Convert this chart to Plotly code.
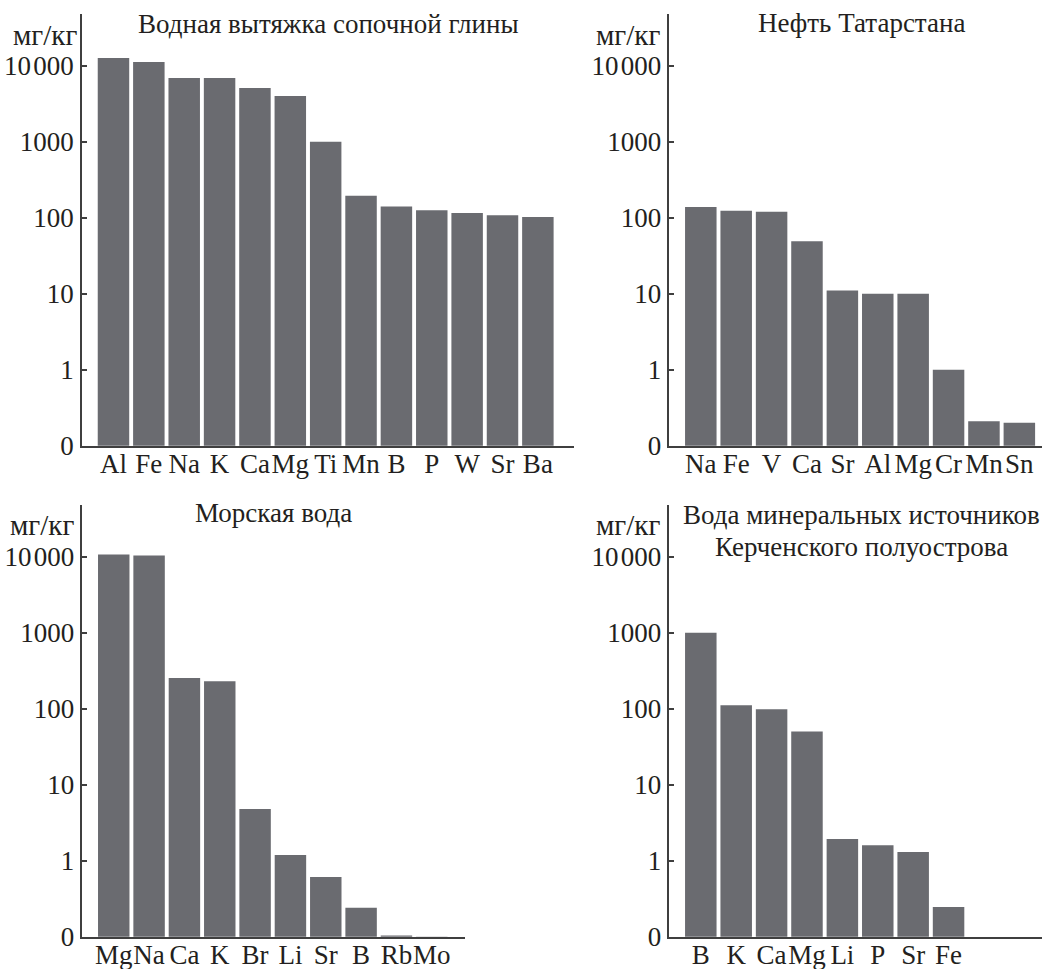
import plotly.graph_objects as go

W, H = 1042, 969

# ---- data ----
clay_elements = ["Al", "Fe", "Na", "K", "Ca", "Mg", "Ti", "Mn", "B", "P", "W", "Sr", "Ba"]
clay_values = [12600, 11200, 6900, 6900, 5100, 4000, 1000, 195, 140, 125, 115, 108, 102]

oil_elements = ["Na", "Fe", "V", "Ca", "Sr", "Al", "Mg", "Cr", "Mn", "Sn"]
oil_values = [138, 123, 120, 49, 11, 10, 10, 1.0, 0.21, 0.20]

sea_elements = ["Mg", "Na", "Ca", "K", "Br", "Li", "Sr", "B", "Rb", "Mo"]
sea_values = [10700, 10400, 253, 230, 4.8, 1.19, 0.61, 0.24, 0.104, 0.1]

spring_elements = ["B", "K", "Ca", "Mg", "Li", "P", "Sr", "Fe"]
spring_values = [1000, 111, 98, 50, 1.93, 1.6, 1.3, 0.245]

y_tickvals = [0.1, 1, 10, 100, 1000, 10000]
y_ticktext = ["0", "1", "10", "100", "1000", "10\u200a000"]

titles = ["Водная вытяжка сопочной глины", "Нефть Татарстана", "Морская вода",
          "Вода минеральных источников", "Керченского полуострова"]
unit_label = "мг/кг"

# ---- styling / layout ----
BAR = "#6a6b70"
AX = "#3f3f3f"
TXT = "#231f20"
FONT = "Liberation Serif"

panels = [
    # (elements, values, x px domain, y px domain (top,bottom), x range)
    (clay_elements, clay_values, (82, 574.3), (14, 445.7), (-0.89, 13.03)),
    (oil_elements, oil_values, (669.3, 1042), (14, 445.7), (-0.89, 9.64)),
    (sea_elements, sea_values, (82.3, 465), (505, 936.7), (-0.89, 9.94)),
    (spring_elements, spring_values, (669.3, 1042), (505, 936.7), (-0.89, 9.64)),
]

fig = go.Figure()
layout = {}
for i, (els, vals, xd, yd, xr) in enumerate(panels):
    n = i + 1
    xa = "x" if n == 1 else f"x{n}"
    ya = "y" if n == 1 else f"y{n}"
    fig.add_trace(go.Bar(
        x=list(range(len(els))), y=vals, xaxis=xa, yaxis=ya,
        marker=dict(color=BAR, line=dict(width=0)),
        showlegend=False, hoverinfo="x+y",
    ))
    xkey = "xaxis" if n == 1 else f"xaxis{n}"
    ykey = "yaxis" if n == 1 else f"yaxis{n}"
    layout[xkey] = dict(
        domain=[xd[0] / W, min(xd[1] / W, 1.0)], anchor=ya, range=list(xr),
        tickmode="array", tickvals=list(range(len(els))), ticktext=els,
        showline=True, linecolor=AX, linewidth=1.5, ticks="", showgrid=False,
        zeroline=False, tickfont=dict(family=FONT, size=27, color=TXT),
        tickangle=0, automargin=False, ticklabelstandoff=-7, fixedrange=True,
    )
    layout[ykey] = dict(
        domain=[1 - yd[1] / H, 1 - yd[0] / H], anchor=xa, type="log",
        range=[-1, 4.68], tickmode="array", tickvals=y_tickvals, ticktext=y_ticktext,
        showline=True, linecolor=AX, linewidth=1.5, ticks="inside", ticklen=5,
        tickwidth=1.5, tickcolor=AX, showgrid=False, zeroline=False,
        tickfont=dict(family=FONT, size=27, color=TXT), ticklabelstandoff=1,
        automargin=False, fixedrange=True,
    )

annotations = []
title_pos = [(328.5, 24), (861, 23), (273.5, 513), (861, 515), (861, 547)]
for t, (px, py) in zip(titles, title_pos):
    annotations.append(dict(
        text=t, x=px / W, y=1 - py / H, xref="paper", yref="paper",
        xanchor="center", yanchor="middle", showarrow=False,
        font=dict(family=FONT, size=27, color=TXT),
    ))
unit_pos = [(79, 35), (662, 35), (75.5, 525), (662, 525)]
for px, py in unit_pos:
    annotations.append(dict(
        text=unit_label, x=px / W, y=1 - py / H, xref="paper", yref="paper",
        xanchor="right", yanchor="middle", showarrow=False,
        font=dict(family=FONT, size=29, color=TXT),
    ))

fig.update_layout(
    width=W, height=H, margin=dict(l=0, r=0, t=0, b=0),
    paper_bgcolor="white", plot_bgcolor="white", bargap=0.11,
    annotations=annotations, **layout,
)

fig.write_html("out.html", config={"displayModeBar": False})
